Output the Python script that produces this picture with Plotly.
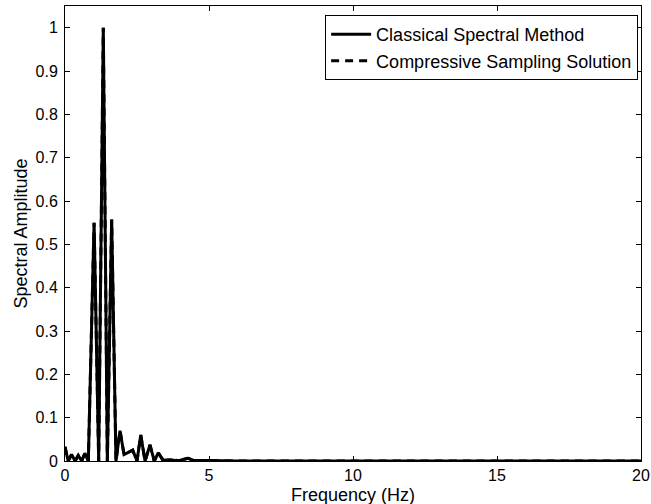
import plotly.graph_objects as go

freq = [0.0, 0.11, 0.23, 0.35, 0.46, 0.58, 0.69, 0.81, 1.01, 1.17, 1.33, 1.47, 1.62, 1.77,
        1.91, 2.05, 2.2, 2.35, 2.5, 2.63, 2.78, 2.95, 3.1, 3.24, 3.4, 3.6, 3.8, 4.0,
        4.27, 4.5, 5.0, 6.0, 8.0, 10.0, 12.0, 14.0, 16.0, 18.0, 20.0]
classical = [0.033, 0.0, 0.015, 0.0, 0.013, 0.0, 0.018, 0.0, 0.55, 0.0, 1.0, 0.0, 0.557, 0.0,
             0.07, 0.015, 0.02, 0.025, 0.0, 0.06, 0.0, 0.037, 0.0, 0.019, 0.002, 0.003, 0.001, 0.002,
             0.006, 0.001, 0.001, 0.0, 0.0, 0.0, 0.0, 0.0, 0.0, 0.0, 0.0]
compressive = list(classical)

x_ticks = [0, 5, 10, 15, 20]
y_ticks = [0, 0.1, 0.2, 0.3, 0.4, 0.5, 0.6, 0.7, 0.8, 0.9, 1]
y_tick_labels = ["0", "0.1", "0.2", "0.3", "0.4", "0.5", "0.6", "0.7", "0.8", "0.9", "1"]
x_title = "Frequency (Hz)"
y_title = "Spectral Amplitude"

font_family = "Liberation Sans, Arial, Helvetica, sans-serif"

fig = go.Figure()
fig.add_trace(go.Scatter(x=freq, y=classical, mode="lines", name="Classical Spectral Method",
                         line=dict(color="black", width=3)))
fig.add_trace(go.Scatter(x=freq, y=compressive, mode="lines", name="Compressive Sampling Solution",
                         line=dict(color="black", width=3, dash="8px,6px")))

axis_common = dict(showgrid=False, zeroline=False, showline=True, linecolor="black", linewidth=1,
                   mirror="ticks", ticks="inside", ticklen=5, tickcolor="black", automargin=False,
                   tickfont=dict(family=font_family, size=16, color="black"))

fig.update_xaxes(range=[0, 20], tickvals=x_ticks, ticktext=[str(v) for v in x_ticks],
                 ticklabelstandoff=0, **axis_common)
fig.update_yaxes(range=[0, 1.05], tickvals=y_ticks, ticktext=y_tick_labels,
                 ticklabelstandoff=3, **axis_common)

fig.add_annotation(text=x_title, xref="paper", yref="paper", x=0.5, y=0,
                   xanchor="center", yanchor="top", yshift=-22, showarrow=False,
                   font=dict(family=font_family, size=18, color="black"))
fig.add_annotation(text=y_title, xref="paper", yref="paper", x=0, y=0.5,
                   xanchor="center", yanchor="middle", xshift=-45, textangle=-90, showarrow=False,
                   font=dict(family=font_family, size=18, color="black"))

fig.update_layout(
    width=651, height=504,
    margin=dict(l=65, r=10, t=6, b=43),
    paper_bgcolor="white", plot_bgcolor="white",
    font=dict(family=font_family, color="black"),
    legend=dict(x=0.995, y=0.98, xanchor="right", yanchor="top",
                bordercolor="black", borderwidth=1, bgcolor="white",
                font=dict(family=font_family, size=18, color="black"),
                tracegroupgap=0, itemwidth=40),
    showlegend=True,
)

fig.write_html("out.html",
               config={"displayModeBar": False},
               post_script="document.body.style.margin='0';document.body.style.padding='0';"
                           "document.body.style.overflow='hidden';")
